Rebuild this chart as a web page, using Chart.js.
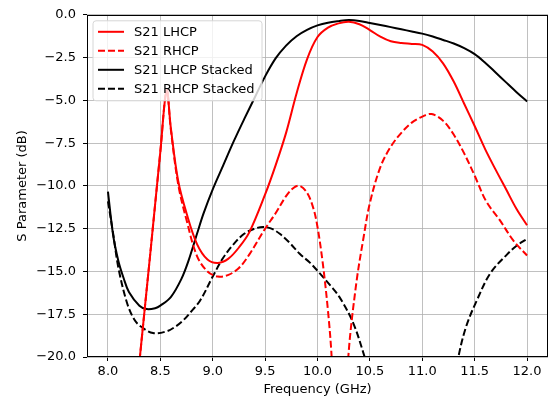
<!DOCTYPE html>
<html>
<head>
<meta charset="utf-8">
<script src="https://cdn.jsdelivr.net/npm/chart.js@4/dist/chart.umd.min.js"></script>
<style>
  html, body { margin: 0; padding: 0; background: #fff; }
  #wrap { width: 552px; height: 401px; }
</style>
</head>
<body>
<div id="wrap"><canvas id="c" width="552" height="401"></canvas></div>
<script>
// ---- data ----
const xTicks = [8.0, 8.5, 9.0, 9.5, 10.0, 10.5, 11.0, 11.5, 12.0];
const yTicks = [0, -2.5, -5, -7.5, -10, -12.5, -15, -17.5, -20];

const lhcpFreq = [8.0, 8.2, 8.3, 8.4, 8.5, 8.56, 8.6, 8.67, 8.75, 8.85, 8.95, 9.05, 9.15, 9.25, 9.35, 9.5, 9.6, 9.7, 9.8, 9.9, 10.0, 10.1, 10.2, 10.3, 10.4, 10.5, 10.6, 10.7, 10.8, 10.9, 11.0, 11.1, 11.2, 11.3, 11.4, 11.5, 11.6, 11.7, 11.8, 11.9, 12.0];
const lhcpDb   = [-40, -26.5, -20.3, -14.2, -8.0, -4.4, -6.6, -9.7, -11.6, -13.4, -14.3, -14.5, -14.25, -13.6, -12.7, -10.5, -8.8, -6.9, -4.6, -2.6, -1.3, -0.75, -0.5, -0.41, -0.55, -0.89, -1.28, -1.55, -1.65, -1.7, -1.76, -2.15, -2.85, -3.9, -5.2, -6.5, -7.85, -9.05, -10.2, -11.35, -12.3];

const rhcpFreq = [8.0, 8.2, 8.3, 8.4, 8.5, 8.56, 8.6, 8.67, 8.75, 8.85, 8.95, 9.05, 9.15, 9.25, 9.35, 9.5, 9.6, 9.7, 9.77, 9.83, 9.9, 9.96, 10.0, 10.05, 10.1, 10.135, 10.2, 10.25, 10.294, 10.37, 10.44, 10.5, 10.6, 10.7, 10.8, 10.9, 11.0, 11.09, 11.2, 11.3, 11.4, 11.5, 11.61, 11.74, 11.87, 12.0];
const rhcpDb   = [-40, -26.5, -20.3, -14.2, -8.0, -4.4, -6.7, -9.9, -12.0, -14.1, -15.0, -15.3, -15.2, -14.8, -14.0, -12.5, -11.6, -10.6, -10.12, -10.0, -10.4, -11.3, -12.4, -14.5, -17.3, -20.0, -28, -26, -20.0, -15.7, -13.0, -11.0, -8.9, -7.7, -6.9, -6.3, -5.95, -5.8, -6.2, -7.0, -8.1, -9.4, -10.9, -12.0, -13.2, -14.07];

const lhcpStFreq = [8.0, 8.05, 8.1, 8.15, 8.2, 8.3, 8.37, 8.45, 8.5, 8.6, 8.7, 8.77, 8.85, 8.91, 9.0, 9.1, 9.2, 9.3, 9.4, 9.5, 9.6, 9.7, 9.8, 9.9, 10.0, 10.1, 10.2, 10.3, 10.4, 10.5, 10.6, 10.7, 10.8, 10.9, 11.0, 11.1, 11.2, 11.3, 11.4, 11.5, 11.6, 11.7, 11.8, 11.9, 12.0];
const lhcpStDb   = [-10.33, -12.9, -14.4, -15.4, -16.2, -17.0, -17.2, -17.15, -17.0, -16.5, -15.45, -14.35, -12.8, -11.65, -10.2, -8.8, -7.4, -6.1, -4.85, -3.6, -2.55, -1.8, -1.25, -0.88, -0.62, -0.46, -0.37, -0.31, -0.36, -0.48, -0.6, -0.72, -0.85, -0.97, -1.1, -1.27, -1.47, -1.68, -1.95, -2.3, -2.8, -3.37, -3.95, -4.52, -5.06];

const rhcpStFreq = [8.0, 8.05, 8.1, 8.18, 8.25, 8.31, 8.43, 8.56, 8.65, 8.72, 8.8, 8.88, 9.0, 9.1, 9.2, 9.3, 9.4, 9.48, 9.56, 9.64, 9.73, 9.83, 9.93, 10.02, 10.12, 10.21, 10.34, 10.45, 10.6, 10.8, 11.0, 11.2, 11.345, 11.42, 11.52, 11.65, 11.81, 11.9, 12.0];
const rhcpStDb   = [-10.9, -12.8, -14.8, -16.8, -17.8, -18.2, -18.6, -18.5, -18.2, -17.85, -17.3, -16.7, -15.3, -14.2, -13.4, -12.8, -12.5, -12.4, -12.5, -12.8, -13.3, -13.97, -14.5, -15.1, -15.8, -16.5, -18.0, -20.0, -23, -27, -28.5, -25, -20.0, -18.2, -16.7, -15.1, -14.0, -13.5, -13.1];

const seriesNames = ['S21 LHCP', 'S21 RHCP', 'S21 LHCP Stacked', 'S21 RHCP Stacked'];

// ---- helpers ----
function pts(xs, ys) { return xs.map((x, i) => ({ x: x, y: ys[i] })); }
const fmt = v => Number(v).toFixed(1).replace('-', '\u2212');
const FONT = 'DejaVu Sans';
const FSIZE = 13;
Chart.defaults.font.family = FONT;
Chart.defaults.font.size = FSIZE;
Chart.defaults.color = '#000';

function ds(label, xs, ys, color, dashed) {
  return {
    label: label,
    data: pts(xs, ys),
    borderColor: color,
    backgroundColor: color,
    borderWidth: 2,
    borderDash: dashed ? [7, 3] : [],
    pointRadius: 0,
    tension: 0.35,
    fill: false
  };
}

const framePlugin = {
  id: 'frame',
  afterDatasetsDraw(chart) {
    const { ctx, chartArea: a } = chart;
    ctx.save();
    ctx.strokeStyle = '#000';
    ctx.lineWidth = 1;
    ctx.strokeRect(Math.round(a.left) + 0.5, Math.round(a.top) + 0.5, Math.round(a.right - a.left) - 1, Math.round(a.bottom - a.top) - 1);
    ctx.restore();
  }
};

const legendPlugin = {
  id: 'boxLegend',
  afterDraw(chart) {
    const { ctx, chartArea: a } = chart;
    const x0 = a.left + 6, y0 = a.top + 6, w = 169, h = 80, r = 3;
    ctx.save();
    ctx.beginPath();
    ctx.moveTo(x0 + r, y0);
    ctx.arcTo(x0 + w, y0, x0 + w, y0 + h, r);
    ctx.arcTo(x0 + w, y0 + h, x0, y0 + h, r);
    ctx.arcTo(x0, y0 + h, x0, y0, r);
    ctx.arcTo(x0, y0, x0 + w, y0, r);
    ctx.closePath();
    ctx.fillStyle = 'rgba(255,255,255,0.8)';
    ctx.fill();
    ctx.strokeStyle = '#d6d6d6';
    ctx.lineWidth = 1;
    ctx.stroke();
    ctx.font = FSIZE + 'px "' + FONT + '"';
    ctx.textBaseline = 'middle';
    ctx.fillStyle = '#000';
    chart.data.datasets.forEach((d, i) => {
      const yy = y0 + 11 + i * 19;
      ctx.beginPath();
      ctx.setLineDash(d.borderDash || []);
      ctx.strokeStyle = d.borderColor;
      ctx.lineWidth = 2;
      ctx.moveTo(x0 + 5, yy);
      ctx.lineTo(x0 + 31, yy);
      ctx.stroke();
      ctx.setLineDash([]);
      ctx.fillText(d.label, x0 + 41, yy + 1);
    });
    ctx.restore();
  }
};

new Chart(document.getElementById('c'), {
  type: 'line',
  data: {
    datasets: [
      ds(seriesNames[0], lhcpFreq, lhcpDb, '#ff0000', false),
      ds(seriesNames[1], rhcpFreq, rhcpDb, '#ff0000', true),
      ds(seriesNames[2], lhcpStFreq, lhcpStDb, '#000000', false),
      ds(seriesNames[3], rhcpStFreq, rhcpStDb, '#000000', true)
    ]
  },
  options: {
    responsive: false,
    animation: false,
    devicePixelRatio: 1,
    layout: { padding: { left: 0, top: 13, right: 4, bottom: 0 } },
    plugins: { legend: { display: false }, tooltip: { enabled: false } },
    scales: {
      x: {
        type: 'linear',
        min: 7.8, max: 12.2,
        afterBuildTicks: s => { s.ticks = xTicks.map(v => ({ value: v })); },
        afterFit: s => { s.height = 44; },
        ticks: { callback: v => fmt(v), padding: 3, maxRotation: 0, autoSkip: false, color: '#000' },
        grid: { color: '#b0b0b0', lineWidth: 0.8, tickColor: '#000', tickLength: 4, tickWidth: 1 },
        border: { display: false },
        title: { display: true, text: 'Frequency (GHz)', color: '#000', padding: { top: 0, bottom: 4 } }
      },
      y: {
        type: 'linear',
        min: -20, max: 0,
        afterBuildTicks: s => { s.ticks = yTicks.map(v => ({ value: v })); },
        afterFit: s => { s.width = 87; },
        ticks: { callback: v => fmt(v), padding: 7, autoSkip: false, color: '#000' },
        grid: { color: '#b0b0b0', lineWidth: 0.8, tickColor: '#000', tickLength: 4, tickWidth: 1 },
        border: { display: false },
        title: { display: true, text: 'S Parameter (dB)', color: '#000', padding: { top: 15, bottom: 0 } }
      }
    }
  },
  plugins: [framePlugin, legendPlugin]
});
</script>
</body>
</html>
